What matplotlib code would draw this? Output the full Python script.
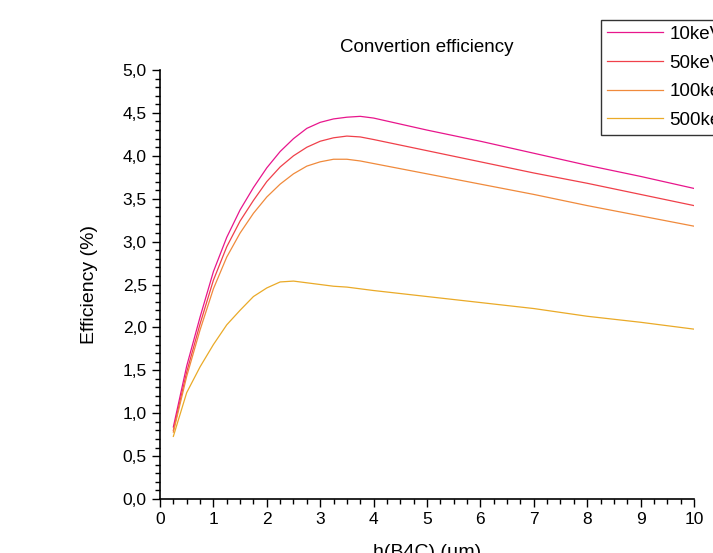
import numpy as np
import matplotlib.pyplot as plt
from matplotlib.ticker import MultipleLocator, FuncFormatter

plt.rcParams['font.family'] = ['Liberation Sans', 'DejaVu Sans']

# h(B4C) en um
h = [0.25, 0.5, 0.75, 1.0, 1.25, 1.5, 1.75, 2.0, 2.25, 2.5, 2.75, 3.0,
     3.25, 3.5, 3.75, 4.0, 5, 6, 7, 8, 9, 10]

eff_10kev = [0.84, 1.55, 2.12, 2.65, 3.05, 3.37, 3.63, 3.86, 4.05, 4.20, 4.32,
             4.39, 4.43, 4.45, 4.46, 4.44, 4.30, 4.17, 4.03, 3.89, 3.76, 3.62]
eff_50kev = [0.80, 1.48, 2.04, 2.55, 2.94, 3.24, 3.48, 3.70, 3.87, 4.00, 4.10,
             4.17, 4.21, 4.23, 4.22, 4.19, 4.06, 3.93, 3.80, 3.68, 3.55, 3.42]
eff_100kev = [0.78, 1.43, 1.97, 2.45, 2.82, 3.10, 3.33, 3.52, 3.67, 3.79, 3.88,
              3.93, 3.96, 3.96, 3.94, 3.91, 3.79, 3.67, 3.55, 3.42, 3.30, 3.18]
eff_500kev = [0.73, 1.24, 1.54, 1.80, 2.03, 2.20, 2.36, 2.46, 2.53, 2.54, 2.52,
              2.50, 2.48, 2.47, 2.45, 2.43, 2.36, 2.29, 2.22, 2.13, 2.06, 1.98]

labels = ['10keV', '50keV', '100keV', '500keV']
couleurs = ['#e8168c', '#f0404a', '#f08a3c', '#eaaa28']

fig = plt.figure(figsize=(7.13, 5.53), dpi=100)
ax = fig.add_axes([0.2244, 0.0976, 0.7489, 0.7758])

for y, lab, c in zip([eff_10kev, eff_50kev, eff_100kev, eff_500kev], labels, couleurs):
    ax.plot(h, y, color=c, lw=0.9, label=lab)

ax.set_xlim(0, 10)
ax.set_ylim(0, 5)
ax.xaxis.set_major_locator(MultipleLocator(1))
ax.xaxis.set_minor_locator(MultipleLocator(0.25))
ax.yaxis.set_major_locator(MultipleLocator(0.5))
ax.yaxis.set_minor_locator(MultipleLocator(0.1))
ax.yaxis.set_major_formatter(FuncFormatter(lambda v, p: f'{v:.1f}'.replace('.', ',')))
ax.tick_params(which='major', direction='out', length=6, width=1, labelsize=12.5)
ax.tick_params(which='minor', direction='out', length=3.5, width=1)
for s in ['top', 'right']:
    ax.spines[s].set_visible(False)
for s in ['left', 'bottom']:
    ax.spines[s].set_linewidth(1.2)

ax.set_title('Convertion efficiency', fontsize=13.5, pad=13)
ax.set_ylabel('Efficiency (%)', fontsize=14, labelpad=18)
ax.set_xlabel('h(B4C) (µm)', fontsize=14, labelpad=12)

leg = fig.legend(loc='upper left', bbox_to_anchor=(601 / 713, 1 - 20 / 553),
                 fontsize=13.5, frameon=True, fancybox=False, shadow=False,
                 handlelength=3.0, labelspacing=0.62, borderpad=0.3,
                 handletextpad=0.35, borderaxespad=0)
leg.get_frame().set_edgecolor('black')
leg.get_frame().set_linewidth(1.0)

plt.savefig('out.png', dpi=100)
